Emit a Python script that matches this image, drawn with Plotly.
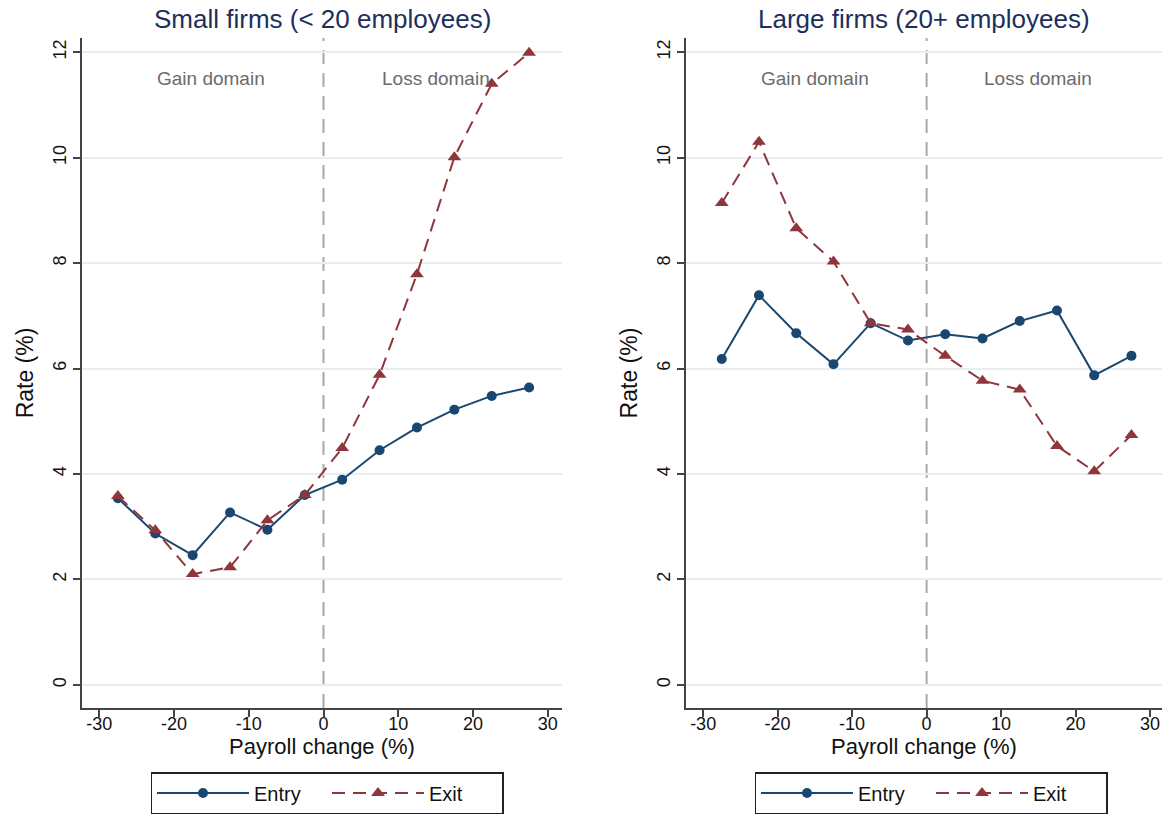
import plotly.graph_objects as go

x_bins = [-27.5, -22.5, -17.5, -12.5, -7.5, -2.5, 2.5, 7.5, 12.5, 17.5, 22.5, 27.5]

small_entry = [3.54, 2.87, 2.46, 3.27, 2.94, 3.60, 3.89, 4.45, 4.88, 5.22, 5.48, 5.64]
small_exit = [3.58, 2.93, 2.10, 2.23, 3.12, 3.60, 4.49, 5.88, 7.79, 10.01, 11.40, 11.99]

large_entry = [6.18, 7.39, 6.67, 6.08, 6.86, 6.53, 6.65, 6.57, 6.90, 7.10, 5.87, 6.24]
large_exit = [9.14, 10.30, 8.66, 8.03, 6.86, 6.74, 6.24, 5.77, 5.60, 4.53, 4.05, 4.74]

panel_titles = ["Small firms (< 20 employees)", "Large firms (20+ employees)"]
series_names = ["Entry", "Exit"]
x_ticks = [-30, -20, -10, 0, 10, 20, 30]
x_tick_text = ["-30", "-20", "-10", "0", "10", "20", "30"]
y_ticks = [0, 2, 4, 6, 8, 10, 12]

ENTRY_C = "#1a476f"
EXIT_C = "#90353b"
FONT = "Liberation Sans, Arial, Helvetica, sans-serif"
W, H = 1168, 815


def fx(px):
    return px / W


def fy(py):
    return 1 - py / H


fig = go.Figure()

panels = [
    (small_entry, small_exit, "x", "y", "legend"),
    (large_entry, large_exit, "x2", "y2", "legend2"),
]
for entry, exitv, xa, ya, lg in panels:
    fig.add_trace(go.Scatter(
        x=x_bins, y=entry, name=series_names[0], mode="lines+markers",
        line=dict(color=ENTRY_C, width=2),
        marker=dict(symbol="circle", size=10, color=ENTRY_C),
        xaxis=xa, yaxis=ya, legend=lg,
    ))
    fig.add_trace(go.Scatter(
        x=x_bins, y=exitv, name=series_names[1], mode="lines+markers",
        line=dict(color=EXIT_C, width=2, dash="13px,8px"),
        marker=dict(symbol="triangle-up", size=12, color=EXIT_C),
        xaxis=xa, yaxis=ya, legend=lg,
    ))

xdoms = [[fx(82), fx(562)], [fx(686), fx(1162)]]
ydom = [fy(708), fy(38)]

axis_common = dict(
    showline=True, linecolor="#444", linewidth=1.5,
    ticks="outside", ticklen=7, tickcolor="#444", tickwidth=1.5,
    tickfont=dict(family=FONT, size=18, color="#111"),
    zeroline=False, automargin=False,
)

layout = dict(
    width=W, height=H,
    margin=dict(l=0, r=0, t=0, b=0, autoexpand=False),
    paper_bgcolor="white", plot_bgcolor="white",
    font=dict(family=FONT, color="#111"),
    showlegend=True,
)

for i, (xa, ya) in enumerate([("xaxis", "yaxis"), ("xaxis2", "yaxis2")]):
    sfx = "" if i == 0 else "2"
    layout[xa] = dict(
        domain=xdoms[i], anchor="y" + sfx,
        range=[-32.3, 31.9] if i == 0 else [-32.3, 31.6],
        tickvals=x_ticks, ticktext=x_tick_text, showgrid=False,
        ticklabelstandoff=-8,
        title=dict(text="Payroll change (%)", font=dict(family=FONT, size=22, color="#111"), standoff=0),
        **axis_common,
    )
    layout[ya] = dict(
        domain=ydom, anchor="x" + sfx,
        range=[-0.44, 12.27],
        tickvals=y_ticks, tickangle=-90,
        showgrid=True, gridcolor="#e8eef2", gridwidth=1.5,
        title=dict(text="Rate (%)", font=dict(family=FONT, size=23, color="#111"), standoff=10),
        **axis_common,
    )

legend_common = dict(
    orientation="h", yanchor="top", xanchor="center",
    bordercolor="#222", borderwidth=1.5, bgcolor="white",
    font=dict(family=FONT, size=20, color="#111"),
    itemwidth=92, entrywidth=68, tracegroupgap=0,
)
layout["legend"] = dict(x=fx((146 + 508) / 2), y=fy(772), **legend_common)
layout["legend2"] = dict(x=fx((750 + 1112) / 2), y=fy(772), **legend_common)

fig.update_layout(**layout)

# panel titles
for i, t in enumerate(panel_titles):
    fig.add_annotation(
        text=t, xref="paper", yref="paper",
        x=(xdoms[i][0] + xdoms[i][1]) / 2, y=fy(19),
        showarrow=False, xanchor="center", yanchor="middle",
        font=dict(family=FONT, size=26, color="#1c2f5c"),
    )

# domain labels and zero lines
for xr, yr in [("x", "y"), ("x2", "y2")]:
    fig.add_annotation(text="Gain domain", x=-15, y=11.5, xref=xr, yref=yr,
                       showarrow=False, font=dict(family=FONT, size=19, color="#6b6b6b"))
    fig.add_annotation(text="Loss domain", x=15, y=11.5, xref=xr, yref=yr,
                       showarrow=False, font=dict(family=FONT, size=19, color="#6b6b6b"))
    fig.add_shape(type="line", x0=0, x1=0, xref=xr, y0=0, y1=1, yref=yr + " domain",
                  line=dict(color="#a8a8a8", width=2, dash="14px,9px"), layer="below")

fig.write_html(
    "out.html",
    config={"displayModeBar": False},
    post_script="document.body.style.margin='0';document.body.style.overflow='hidden';",
)
